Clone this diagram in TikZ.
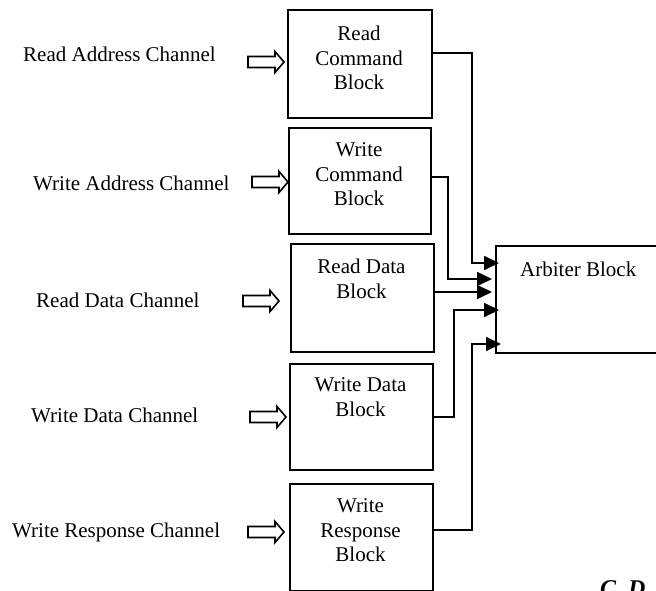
\documentclass[tikz,border=0pt]{standalone}
\usepackage{fontspec}
\setmainfont{Liberation Serif}
\usetikzlibrary{arrows.meta}
\begin{document}
\begin{tikzpicture}[x=1pt,y=-1pt,
  txt/.style={font={\fontsize{21}{24.5}\selectfont}, inner sep=0pt},
  blk/.style={draw, line width=2pt, minimum width=#1, inner sep=0pt, anchor=north west},
  conn/.style={line width=1.8pt, -{Triangle[length=15pt,width=14pt]}},
  hollow/.pic={\draw[line width=1.6pt, line join=miter] (0,-5.5) -- (27,-5.5) -- (27,-10.5) -- (36,0) -- (27,10.5) -- (27,5.5) -- (0,5.5) -- cycle;}
]
\useasboundingbox (0,0) rectangle (656,591);
\clip (0,0) rectangle (656,591);

% blocks
\node[blk=144pt, minimum height=108pt] (b1) at (287,9) {};
\node[blk=142pt, minimum height=106pt] (b2) at (288,127) {};
\node[blk=143pt, minimum height=108pt] (b3) at (290,243) {};
\node[blk=143pt, minimum height=106pt] (b4) at (289,363) {};
\node[blk=143pt, minimum height=107pt] (b5) at (289,483) {};
\node[blk=180pt, minimum height=107pt] (arb) at (495,245) {};

% block texts
\node[txt, align=center, anchor=north] (t1) at (359,25.8) {Read\\Command\\Block};
\node[txt, align=center, anchor=north] (t2) at (359,142.8) {Write\\Command\\Block};
\node[txt, align=center, anchor=north] (t3) at (361.5,258.8) {Read Data\\Block};
\node[txt, align=center, anchor=north] (t4) at (360.5,377.8) {Write Data\\Block};
\node[txt, align=center, anchor=north] (t5) at (360.5,498.8) {Write\\Response\\Block};
\node[txt, anchor=base west] (ta) at (520,276) {Arbiter Block};

% channel labels
\node[txt, anchor=base west] (l1) at (23,62) {Read Address Channel};
\node[txt, anchor=base west] (l2) at (33,190) {Write Address Channel};
\node[txt, anchor=base west] (l3) at (36,307) {Read Data Channel};
\node[txt, anchor=base west] (l4) at (31,422) {Write Data Channel};
\node[txt, anchor=base west] (l5) at (12,537) {Write Response Channel};

% hollow input arrows
\pic at (248,62) {hollow};
\pic at (252,182) {hollow};
\pic at (243,301) {hollow};
\pic at (250,417) {hollow};
\pic at (248,532) {hollow};

% connectors to arbiter
\draw[conn, shorten >=-4pt] ([yshift=11pt]b1.east) -- ++(39,0) |- ([yshift=36.5pt]arb.west);
\draw[conn, shorten >=3pt] ([yshift=4pt]b2.east) -- ++(16,0) |- ([yshift=20.5pt]arb.west);
\draw[conn, shorten >=3pt] ([yshift=6pt]b3.east) -- ([yshift=6pt]b3.east -| arb.west);
\draw[conn, shorten >=-4pt] (b4.east) -- ++(20,0) |- ([yshift=-10.5pt]arb.west);
\draw[conn, shorten >=-6pt] ([yshift=7.5pt]b5.east) -- ++(38,0) |- ([yshift=-44.5pt]arb.west);

% partial caption at bottom right (cut off by the page edge, as in the source)
\node[anchor=base west, inner sep=0pt, font={\fontsize{24}{28}\selectfont\bfseries\itshape}] (cd) at (600,596) {C.\ D};
\end{tikzpicture}
\end{document}
